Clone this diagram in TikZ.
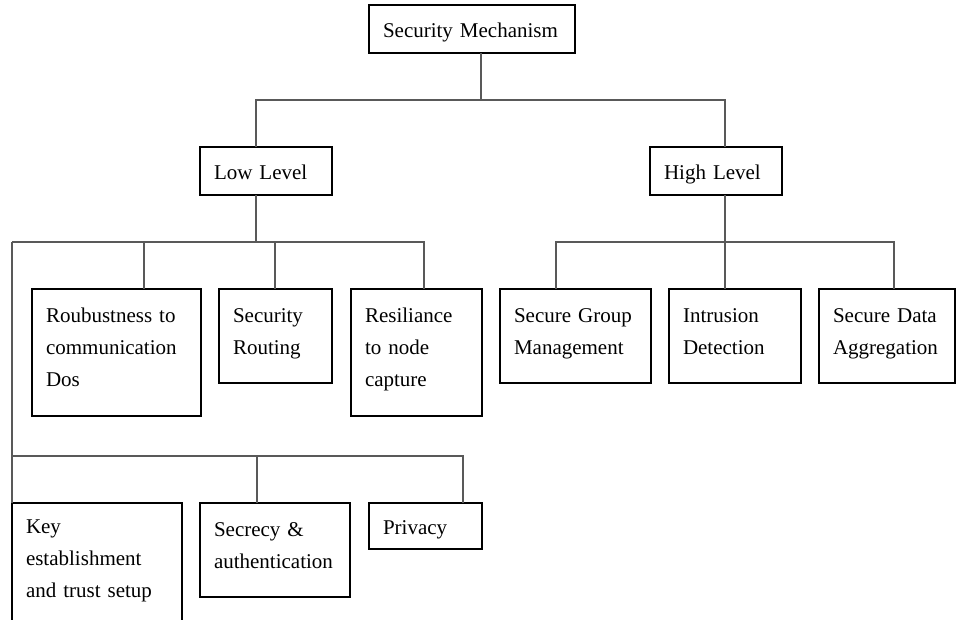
\documentclass[tikz,border=0pt]{standalone}
\usepackage{fontspec}
\setmainfont{Liberation Serif}
\newcommand\tp{\rule{0pt}{20pt}}
\newcommand\bt{\rule[-16pt]{0pt}{16pt}}
\begin{document}
\begin{tikzpicture}[x=1pt,y=-1pt]
\tikzset{
  box/.style={draw=black, line width=1.3pt, anchor=north west, inner xsep=14pt, inner ysep=0pt,
    outer sep=0pt, align=left, font=\fontsize{21}{32}\selectfont},
  oneline/.style={text height=20pt, text depth=4pt},
  conn/.style={draw=black!65, line width=1.7pt},
}
\useasboundingbox (0,0) rectangle (957,619);
\clip (0,0) rectangle (957,619);
\fill[white] (0,0) rectangle (957,619);

\node[box, oneline, minimum width=206pt, minimum height=48pt, text width=178pt] (top) at (369,5) {Security Mechanism};
\node[box, oneline, minimum width=132pt, minimum height=48pt, text width=104pt] (low) at (200,147) {Low Level};
\node[box, oneline, minimum width=132pt, minimum height=48pt, text width=104pt] (high) at (650,147) {High Level};

\node[box, minimum width=169pt, minimum height=127pt, text width=141pt] (rob) at (32,289) {\tp Roubustness to\\communication\\Dos\bt};
\node[box, minimum width=113pt, minimum height=94pt, text width=85pt] (sr) at (219,289) {\tp Security\\Routing\bt};
\node[box, minimum width=131pt, minimum height=127pt, text width=103pt] (res) at (351,289) {\tp Resiliance\\to node\\capture\bt};

\node[box, minimum width=151pt, minimum height=94pt, text width=123pt] (sgm) at (500,289) {\tp Secure Group\\Management\bt};
\node[box, minimum width=132pt, minimum height=94pt, text width=104pt] (ids) at (669,289) {\tp Intrusion\\Detection\bt};
\node[box, minimum width=136pt, minimum height=94pt, text width=108pt] (sda) at (819,289) {\tp Secure Data\\Aggregation\bt};

\node[box, minimum width=170pt, minimum height=120pt, text width=142pt] (key) at (12,503) {\tp Key\\establishment\\and trust setup\bt};
\node[box, minimum width=150pt, minimum height=94pt, text width=122pt] (sec) at (200,503) {\tp Secrecy \&\\authentication\bt};
\node[box, oneline, minimum width=113pt, minimum height=46pt, text width=85pt] (priv) at (369,503) {Privacy};

% junction coordinates
\coordinate (m) at (481,100);
\coordinate (c1) at (256,100);
\coordinate (c2) at (725,100);
\coordinate (l0) at (12,242);
\coordinate (l1) at (144,242);
\coordinate (l2) at (256,242);
\coordinate (l3) at (275,242);
\coordinate (l4) at (424,242);
\coordinate (b0) at (12,456);
\coordinate (b1) at (257,456);
\coordinate (b2) at (463,456);
\coordinate (h0) at (556,242);
\coordinate (h1) at (725,242);
\coordinate (h2) at (894,242);

\draw[conn] (top.south -| m) -- (m);
\draw[conn] (low.north -| c1) -- (c1) -- (c2) -- (high.north -| c2);

\draw[conn] (low.south -| l2) -- (l2);
\draw[conn] (l0) -- (l4) -- (res.north -| l4);
\draw[conn] (l1) -- (rob.north -| l1);
\draw[conn] (l3) -- (sr.north -| l3);

\draw[conn] (l0) -- (key.north -| l0);
\draw[conn] (b0) -- (b2) -- (priv.north -| b2);
\draw[conn] (b1) -- (sec.north -| b1);

\draw[conn] (high.south -| h1) -- (h1) -- (ids.north -| h1);
\draw[conn] (sgm.north -| h0) -- (h0) -- (h2) -- (sda.north -| h2);
\end{tikzpicture}
\end{document}
